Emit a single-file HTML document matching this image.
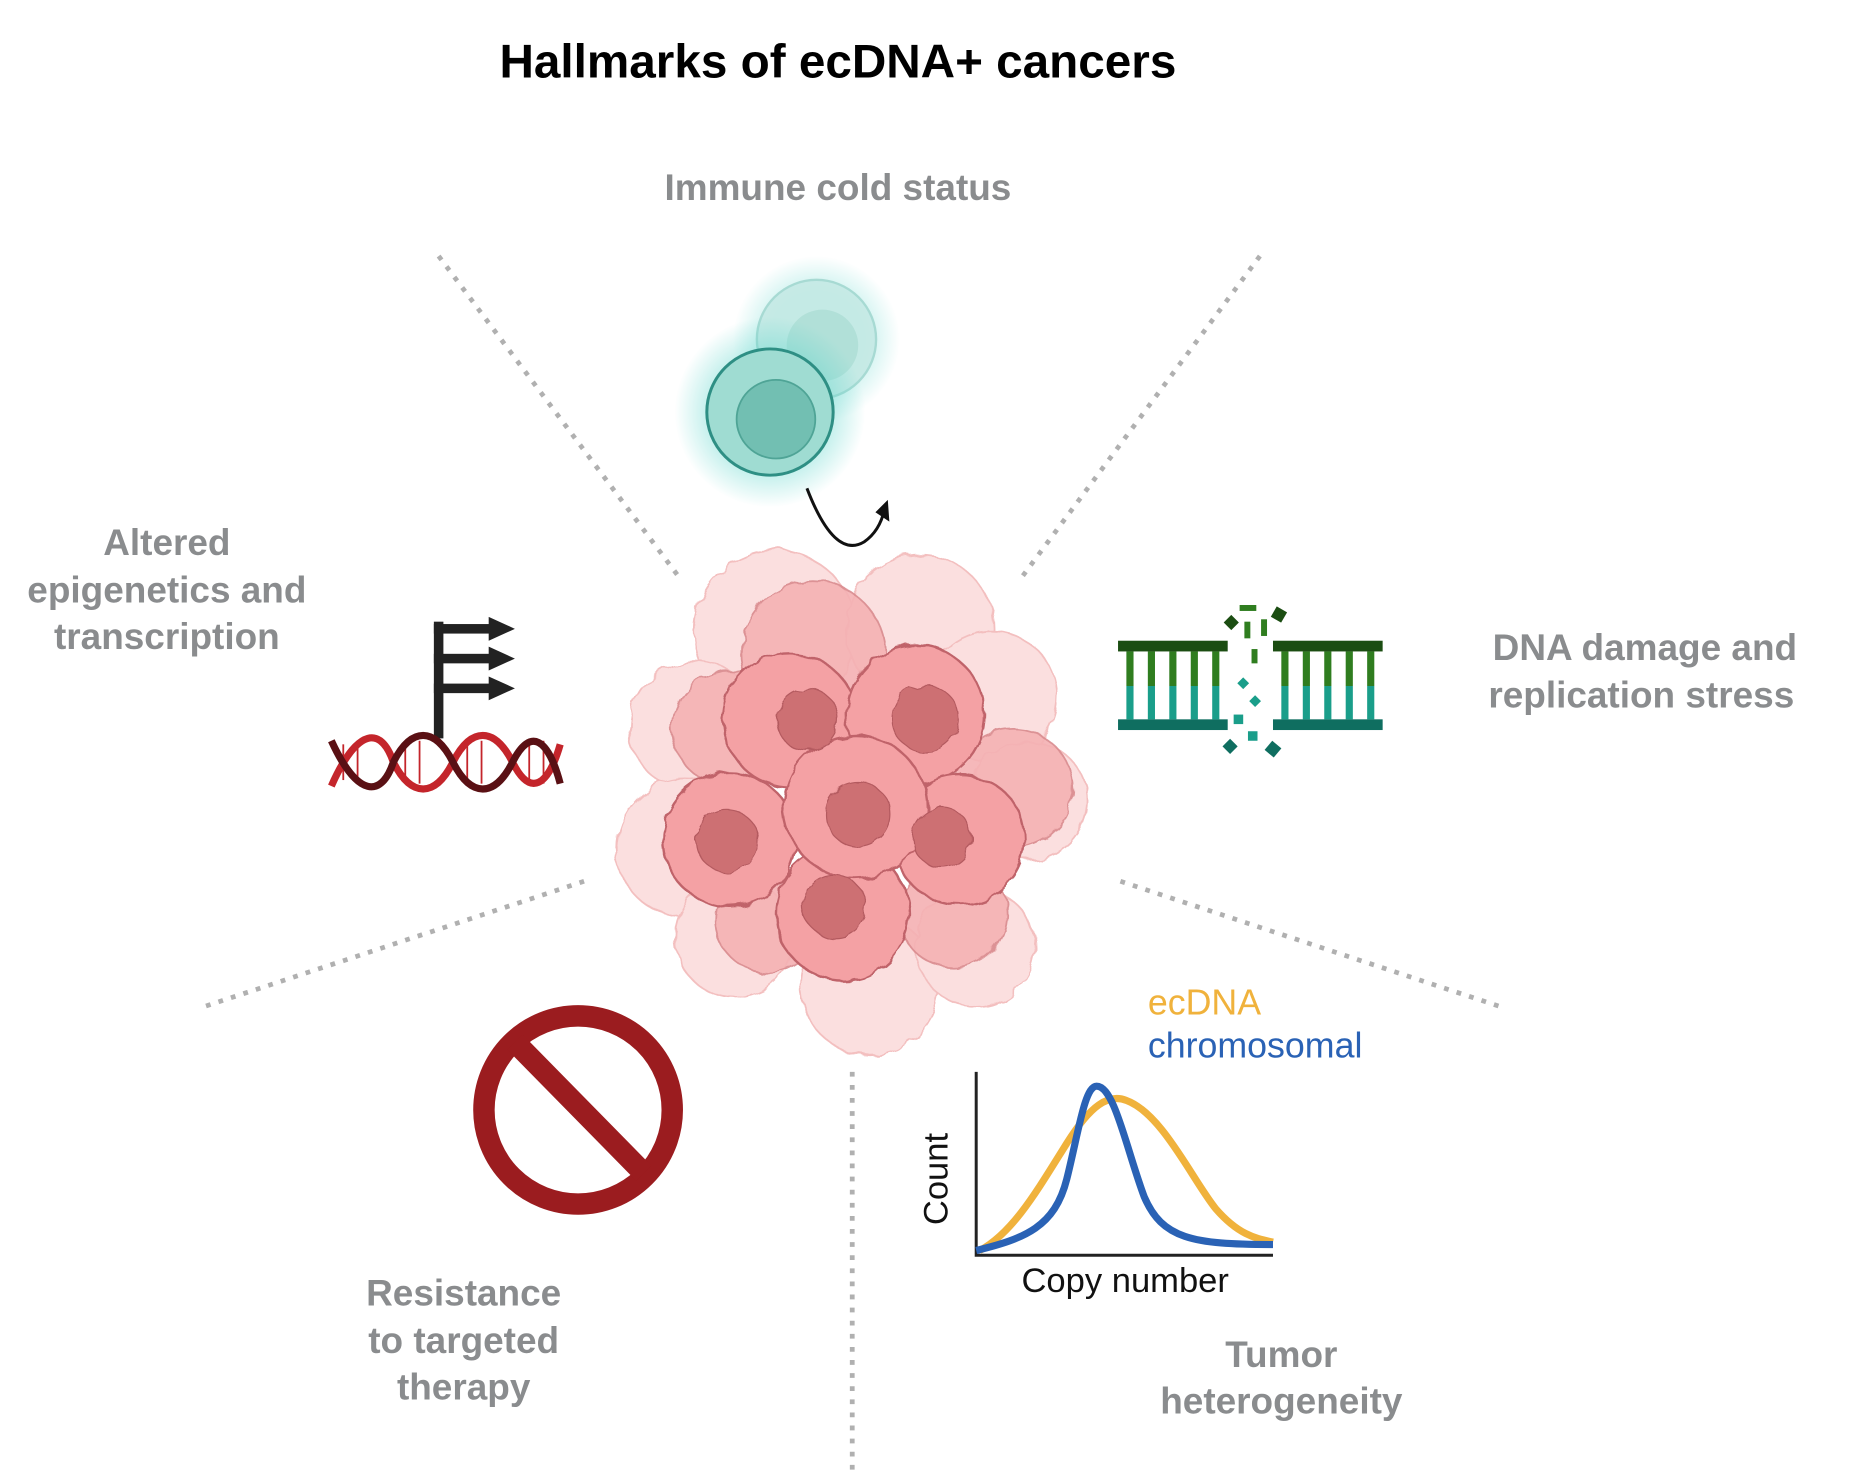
<!DOCTYPE html>
<html><head><meta charset="utf-8"><style>
html,body{margin:0;padding:0;background:#fff;width:1863px;height:1472px;overflow:hidden}
svg{display:block}
text{font-family:"Liberation Sans",sans-serif}
.g{fill:#8a8c8e;font-weight:bold;font-size:31px;text-anchor:middle}
</style></head><body>
<svg width="1863" height="1472" viewBox="0 0 1563 1236" preserveAspectRatio="none">
<defs>
<radialGradient id="glow"><stop offset="0.55" stop-color="#5fd6cc" stop-opacity="0.6"/><stop offset="1" stop-color="#5fd6cc" stop-opacity="0"/></radialGradient>
<filter id="rag"><feTurbulence type="fractalNoise" baseFrequency="0.06" numOctaves="2" seed="3"/><feDisplacementMap in="SourceGraphic" scale="9"/></filter>
</defs>
<text x="703" y="65" text-anchor="middle" font-size="40" font-weight="bold" fill="#000">Hallmarks of ecDNA+ cancers</text>
<text class="g" x="703" y="168">Immune cold status</text>
<g stroke="#b0b0b0" stroke-width="4" stroke-dasharray="4 7" fill="none">
<line x1="368" y1="215" x2="570" y2="485"/>
<line x1="1057" y1="215" x2="857" y2="485"/>
<line x1="490" y1="740" x2="172" y2="845"/>
<line x1="940" y1="740" x2="1258" y2="845"/>
<line x1="715" y1="900" x2="715" y2="1236"/>
</g>
<circle cx="685" cy="285" r="70" fill="url(#glow)" opacity="0.6"/>
<circle cx="685" cy="285" r="50" fill="#c4e9e4" stroke="#9fd6ce" stroke-width="2" opacity="0.85"/>
<circle cx="690" cy="290" r="30" fill="#a9dbd3" opacity="0.7"/>
<circle cx="646" cy="346" r="80" fill="url(#glow)" opacity="0.8"/>
<circle cx="646" cy="346" r="53" fill="#9fdcd2" stroke="#2e8f84" stroke-width="2.5"/>
<circle cx="651" cy="352" r="33" fill="#72bfb2" stroke="#4fa496" stroke-width="1.5"/>
<path d="M677 410 Q700 470 725 455 Q738 446 742 428" fill="none" stroke="#111" stroke-width="2.5"/>
<path d="M736 430 L744 422 L745 436 Z" fill="#111" stroke="#111" stroke-width="2"/>
<g filter="url(#rag)">
<g fill="#fbdcdc" stroke="#f2b9b9" stroke-width="1.5" opacity="0.9">
<circle cx="650" cy="530" r="68"/><circle cx="772" cy="528" r="62"/><circle cx="832" cy="585" r="55"/>
<circle cx="583" cy="610" r="55"/><circle cx="575" cy="712" r="58"/><circle cx="617" cy="788" r="50"/>
<circle cx="730" cy="828" r="58"/><circle cx="818" cy="795" r="50"/><circle cx="862" cy="672" r="50"/>
</g>
<g fill="#f4b1b3" stroke="#d98a8d" stroke-width="1.5" opacity="0.9">
<circle cx="682" cy="548" r="60"/><circle cx="612" cy="612" r="48"/><circle cx="850" cy="662" r="50"/>
<circle cx="645" cy="772" r="45"/><circle cx="800" cy="768" r="45"/>
</g>
<g fill="#f4a1a4" stroke="#c0646a" stroke-width="2">
<circle cx="663" cy="605" r="56"/><circle cx="768" cy="600" r="58"/><circle cx="612" cy="705" r="56"/>
<circle cx="805" cy="705" r="55"/><circle cx="707" cy="767" r="56"/><circle cx="718" cy="678" r="60"/>
</g>
<g fill="#cd6f73" stroke="#b35a5f" stroke-width="1">
<circle cx="677" cy="604" r="26"/><circle cx="776" cy="603" r="28"/><circle cx="610" cy="706" r="26"/>
<circle cx="720" cy="684" r="27"/><circle cx="790" cy="703" r="25"/><circle cx="700" cy="761" r="26"/>
</g>
</g>
<text class="g" x="140" y="466">Altered</text>
<text class="g" x="140" y="506">epigenetics and</text>
<text class="g" x="140" y="545">transcription</text>
<g fill="#222">
<rect x="364" y="522" width="8" height="98"/>
<rect x="364" y="524" width="50" height="8"/><path d="M410 518 L432 528 L410 538Z"/>
<rect x="364" y="549" width="50" height="8"/><path d="M410 543 L432 553 L410 563Z"/>
<rect x="364" y="574" width="50" height="8"/><path d="M410 568 L432 578 L410 588Z"/>
</g>
<g stroke="#c4252b" stroke-width="1.5">
<line x1="288" y1="625" x2="288" y2="655"/><line x1="300" y1="622" x2="300" y2="658"/><line x1="340" y1="625" x2="340" y2="655"/><line x1="352" y1="622" x2="352" y2="658"/><line x1="392" y1="625" x2="392" y2="655"/><line x1="404" y1="622" x2="404" y2="658"/><line x1="444" y1="625" x2="444" y2="655"/><line x1="456" y1="622" x2="456" y2="658"/>
</g>
<path d="M278 660 C300 610,320 610,330 640 C345 670,365 670,380 640 C395 610,415 610,430 640 C445 670,460 660,470 625" fill="none" stroke="#c4252b" stroke-width="6"/>
<path d="M278 622 C300 670,320 670,330 640 C345 610,365 610,380 640 C395 670,415 670,430 640 C445 610,460 620,470 658" fill="none" stroke="#5a1014" stroke-width="6"/>
<text class="g" x="1380" y="554">DNA damage and</text>
<text class="g" x="1377" y="594">replication stress</text>
<rect x="938" y="538" width="92" height="9" fill="#1b4d12"/>
<rect x="1068" y="538" width="92" height="9" fill="#1b4d12"/>
<rect x="938" y="604" width="92" height="9" fill="#0f6e60"/>
<rect x="1068" y="604" width="92" height="9" fill="#0f6e60"/>
<g stroke-width="6">
<g stroke="#2f7d1f"><line x1="948" y1="547" x2="948" y2="576"/><line x1="966" y1="547" x2="966" y2="576"/><line x1="984" y1="547" x2="984" y2="576"/><line x1="1002" y1="547" x2="1002" y2="576"/><line x1="1020" y1="547" x2="1020" y2="576"/>
<line x1="1078" y1="547" x2="1078" y2="576"/><line x1="1096" y1="547" x2="1096" y2="576"/><line x1="1114" y1="547" x2="1114" y2="576"/><line x1="1132" y1="547" x2="1132" y2="576"/><line x1="1150" y1="547" x2="1150" y2="576"/></g>
<g stroke="#1a9e8a"><line x1="948" y1="576" x2="948" y2="604"/><line x1="966" y1="576" x2="966" y2="604"/><line x1="984" y1="576" x2="984" y2="604"/><line x1="1002" y1="576" x2="1002" y2="604"/><line x1="1020" y1="576" x2="1020" y2="604"/>
<line x1="1078" y1="576" x2="1078" y2="604"/><line x1="1096" y1="576" x2="1096" y2="604"/><line x1="1114" y1="576" x2="1114" y2="604"/><line x1="1132" y1="576" x2="1132" y2="604"/><line x1="1150" y1="576" x2="1150" y2="604"/></g>
</g>
<g fill="#1b4d12"><rect x="1029" y="518" width="9" height="9" transform="rotate(45 1033 522)"/><rect x="1068" y="511" width="10" height="10" transform="rotate(30 1073 516)"/></g>
<g fill="#2f7d1f"><rect x="1040" y="508" width="14" height="5"/><rect x="1044" y="522" width="5" height="14"/><rect x="1058" y="520" width="5" height="14"/><rect x="1050" y="545" width="5" height="12"/></g>
<g fill="#1a9e8a"><rect x="1040" y="570" width="7" height="7" transform="rotate(45 1043 573)"/><rect x="1050" y="585" width="7" height="7" transform="rotate(45 1053 588)"/><rect x="1035" y="600" width="8" height="8"/><rect x="1047" y="614" width="8" height="8"/></g>
<g fill="#0f6e60"><rect x="1028" y="622" width="9" height="9" transform="rotate(45 1032 626)"/><rect x="1063" y="624" width="10" height="10" transform="rotate(40 1068 629)"/></g>
<circle cx="485" cy="932" r="79" fill="none" stroke="#9b1c1f" stroke-width="18"/>
<line x1="432" y1="875" x2="540" y2="985" stroke="#9b1c1f" stroke-width="18"/>
<text class="g" x="389" y="1096">Resistance</text>
<text class="g" x="389" y="1136">to targeted</text>
<text class="g" x="389" y="1175">therapy</text>
<text x="963" y="852" font-size="30" fill="#f0b23c">ecDNA</text>
<text x="963" y="888" font-size="30" fill="#2a62b5">chromosomal</text>
<path d="M819 900 L819 1054 L1068 1054" fill="none" stroke="#222" stroke-width="2.5"/>
<path d="M822 1050 C850 1035,870 1000,895 960 C915 928,930 918,945 924 C975 935,1000 990,1020 1015 C1040 1038,1055 1040,1068 1043" fill="none" stroke="#f0b23c" stroke-width="6"/>
<path d="M819 1050 C860 1040,885 1030,895 990 C905 950,910 912,920 912 C935 912,945 965,960 1005 C975 1040,1000 1045,1068 1045" fill="none" stroke="#2a62b5" stroke-width="6"/>
<text x="795" y="990" font-size="29" fill="#111" text-anchor="middle" transform="rotate(-90 795 990)">Count</text>
<text x="944" y="1085" font-size="29" fill="#111" text-anchor="middle">Copy number</text>
<text class="g" x="1075" y="1148">Tumor</text>
<text class="g" x="1075" y="1187">heterogeneity</text>
</svg>
</body></html>
